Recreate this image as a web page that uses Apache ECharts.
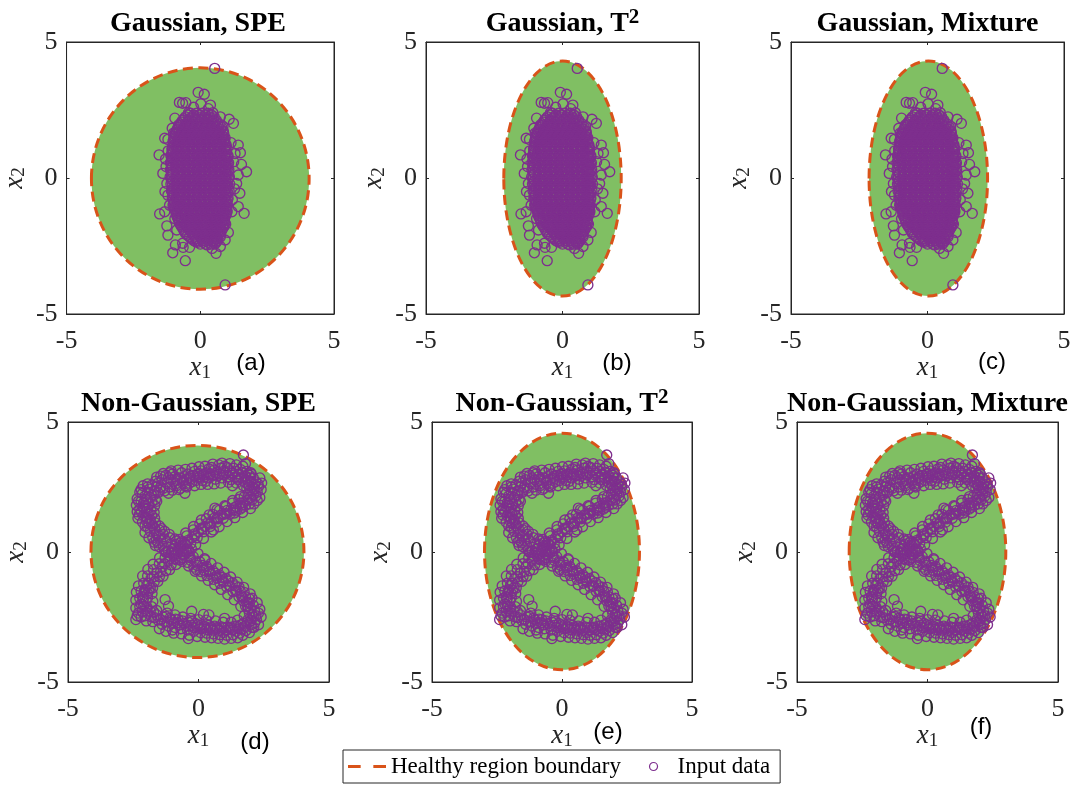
<!DOCTYPE html>
<html><head><meta charset="utf-8">
<script src="https://cdn.jsdelivr.net/npm/echarts@6/dist/echarts.min.js"></script>
<style>html,body{margin:0;padding:0;background:#fff}#c{width:1078px;height:785px}</style>
</head><body><div id="c"></div>
<script>
// ---------------- data ----------------
const AXIS_MIN = -5, AXIS_MAX = 5, TICK_STEP = 5;
const PANEL_TITLES = ['Gaussian, SPE', 'Gaussian, T', 'Gaussian, Mixture', 'Non-Gaussian, SPE', 'Non-Gaussian, T', 'Non-Gaussian, Mixture'];
const TITLE_SUPERSCRIPTS = ['', '2', '', '', '2', ''];
const PANEL_TAGS = ['(a)', '(b)', '(c)', '(d)', '(e)', '(f)'];
const PANEL_DATASET = ['gauss', 'gauss', 'gauss', 'eight', 'eight', 'eight'];
// healthy region boundary: centre and semi-axes (data units)
const BOUNDARY_CX = [0.0, 0.0, 0.03, -0.04, 0.0, 0.0];
const BOUNDARY_CY = [-0.02, -0.02, -0.02, 0.02, 0.02, 0.02];
const BOUNDARY_RX = [4.07, 2.15, 2.17, 4.08, 2.98, 3.0];
const BOUNDARY_RY = [4.07, 4.32, 4.32, 4.08, 4.55, 4.55];
const LEGEND_NAMES = ['Healthy region boundary', 'Input data'];

// Gaussian data, dense core read row by row: [y, [x values]]
const GAUSS_CORE = [
 [2.38, [-0.37,-0.14,0.08,0.29]],
 [2.315, [-0.46,-0.24,-0.02,0.2,0.42]],
 [2.25, [-0.55,-0.31,-0.09,0.14,0.35,0.52]],
 [2.185, [-0.6,-0.38,-0.16,0.06,0.27,0.48]],
 [2.12, [-0.66,-0.43,-0.21,0.01,0.23,0.44,0.6]],
 [2.055, [-0.7,-0.48,-0.26,-0.05,0.17,0.38,0.58]],
 [1.99, [-0.74,-0.52,-0.31,-0.1,0.12,0.31,0.53,0.71]],
 [1.925, [-0.79,-0.57,-0.36,-0.15,0.06,0.26,0.47,0.66]],
 [1.86, [-0.83,-0.62,-0.41,-0.2,0.01,0.21,0.42,0.61,0.8]],
 [1.795, [-0.86,-0.66,-0.45,-0.25,-0.04,0.17,0.37,0.56,0.76]],
 [1.73, [-0.9,-0.69,-0.5,-0.29,-0.09,0.12,0.31,0.51,0.7,0.86]],
 [1.665, [-0.93,-0.72,-0.52,-0.31,-0.1,0.1,0.3,0.5,0.7,0.87]],
 [1.6, [-0.94,-0.74,-0.53,-0.32,-0.11,0.09,0.28,0.49,0.69,0.88]],
 [1.535, [-0.97,-0.77,-0.57,-0.36,-0.15,0.05,0.25,0.45,0.65,0.85]],
 [1.47, [-0.98,-0.8,-0.61,-0.41,-0.2,0.01,0.2,0.41,0.6,0.8,0.93]],
 [1.405, [-1.0,-0.83,-0.65,-0.45,-0.25,-0.05,0.15,0.35,0.55,0.75,0.91]],
 [1.34, [-1.02,-0.86,-0.69,-0.49,-0.3,-0.1,0.11,0.3,0.51,0.7,0.89]],
 [1.275, [-1.01,-0.82,-0.64,-0.44,-0.25,-0.05,0.15,0.35,0.56,0.75,0.93]],
 [1.21, [-1.0,-0.79,-0.6,-0.39,-0.2,0.01,0.2,0.4,0.61,0.8,0.97]],
 [1.145, [-1.03,-0.84,-0.65,-0.45,-0.25,-0.05,0.15,0.35,0.55,0.75,0.95]],
 [1.08, [-1.06,-0.88,-0.7,-0.5,-0.29,-0.1,0.1,0.31,0.5,0.71,0.9,1.0]],
 [1.015, [-1.05,-0.85,-0.65,-0.45,-0.25,-0.05,0.15,0.35,0.55,0.75,0.95]],
 [0.95, [-1.03,-0.81,-0.6,-0.4,-0.19,0.0,0.21,0.4,0.6,0.81,0.99]],
 [0.885, [-1.07,-0.86,-0.65,-0.45,-0.25,-0.05,0.15,0.35,0.55,0.75,0.95]],
 [0.82, [-1.1,-0.91,-0.7,-0.5,-0.3,-0.09,0.1,0.3,0.51,0.7,0.9,1.04]],
 [0.755, [-1.07,-0.86,-0.65,-0.45,-0.25,-0.05,0.15,0.35,0.55,0.75,0.95,1.03]],
 [0.69, [-1.03,-0.8,-0.61,-0.4,-0.2,0.01,0.2,0.39,0.6,0.8,1.0]],
 [0.625, [-1.08,-0.85,-0.65,-0.45,-0.25,-0.05,0.15,0.35,0.55,0.75,0.95]],
 [0.56, [-1.12,-0.9,-0.7,-0.51,-0.3,-0.1,0.1,0.31,0.5,0.7,0.9,1.06]],
 [0.495, [-1.08,-0.85,-0.65,-0.45,-0.25,-0.05,0.15,0.35,0.55,0.75,0.95,1.04]],
 [0.43, [-1.04,-0.81,-0.6,-0.4,-0.19,0.0,0.2,0.4,0.61,0.8,1.01]],
 [0.365, [-1.08,-0.85,-0.65,-0.45,-0.25,-0.05,0.15,0.35,0.55,0.75,0.95]],
 [0.3, [-1.12,-0.9,-0.71,-0.5,-0.3,-0.1,0.11,0.3,0.5,0.7,0.9,1.07]],
 [0.235, [-1.07,-0.85,-0.65,-0.45,-0.25,-0.05,0.15,0.35,0.55,0.75,0.95,1.04]],
 [0.17, [-1.02,-0.8,-0.6,-0.4,-0.2,0.0,0.2,0.41,0.6,0.8,1.0]],
 [0.105, [-1.08,-0.85,-0.65,-0.45,-0.25,-0.05,0.15,0.35,0.55,0.75,0.95]],
 [0.04, [-1.13,-0.91,-0.7,-0.5,-0.29,-0.1,0.1,0.3,0.5,0.7,0.9,1.09]],
 [-0.025, [-1.07,-0.85,-0.65,-0.45,-0.25,-0.05,0.15,0.35,0.55,0.75,0.95,1.05]],
 [-0.09, [-1.02,-0.8,-0.6,-0.4,-0.2,0.0,0.2,0.4,0.6,0.8,1.01]],
 [-0.155, [-1.06,-0.85,-0.65,-0.45,-0.25,-0.05,0.15,0.35,0.55,0.75,0.95]],
 [-0.22, [-1.1,-0.9,-0.7,-0.5,-0.3,-0.1,0.1,0.3,0.5,0.7,0.9,1.1]],
 [-0.285, [-1.05,-0.85,-0.65,-0.45,-0.25,-0.05,0.15,0.35,0.55,0.75,0.95,1.04]],
 [-0.35, [-1.0,-0.8,-0.61,-0.4,-0.2,0.01,0.2,0.4,0.6,0.81,1.0]],
 [-0.415, [-1.04,-0.85,-0.65,-0.45,-0.25,-0.05,0.15,0.35,0.55,0.75,0.95]],
 [-0.48, [-1.08,-0.9,-0.7,-0.5,-0.3,-0.1,0.1,0.3,0.5,0.7,0.9,1.08]],
 [-0.545, [-1.04,-0.85,-0.65,-0.45,-0.25,-0.05,0.15,0.35,0.55,0.75,0.95,1.03]],
 [-0.61, [-1.0,-0.8,-0.6,-0.41,-0.2,0.0,0.2,0.4,0.6,0.8,1.0]],
 [-0.675, [-1.03,-0.85,-0.65,-0.45,-0.25,-0.05,0.15,0.35,0.55,0.75,0.95]],
 [-0.74, [-1.05,-0.9,-0.7,-0.5,-0.3,-0.1,0.1,0.3,0.5,0.7,0.9,1.04]],
 [-0.805, [-1.01,-0.85,-0.65,-0.45,-0.25,-0.05,0.15,0.35,0.55,0.75,0.95,1.02]],
 [-0.87, [-0.98,-0.8,-0.6,-0.4,-0.2,0.0,0.21,0.4,0.6,0.8,0.99]],
 [-0.935, [-1.0,-0.85,-0.65,-0.45,-0.25,-0.05,0.15,0.35,0.55,0.75,0.95]],
 [-1.0, [-1.02,-0.88,-0.7,-0.5,-0.3,-0.1,0.1,0.3,0.5,0.7,0.9,1.02]],
 [-1.065, [-0.98,-0.8,-0.6,-0.4,-0.2,0.0,0.2,0.4,0.6,0.8,0.99]],
 [-1.13, [-0.95,-0.8,-0.6,-0.4,-0.2,0.0,0.2,0.4,0.6,0.8,0.98]],
 [-1.195, [-0.93,-0.75,-0.55,-0.35,-0.15,0.05,0.25,0.45,0.65,0.85,1.0]],
 [-1.26, [-0.9,-0.7,-0.5,-0.3,-0.1,0.1,0.3,0.5,0.7,0.9,1.0]],
 [-1.325, [-0.9,-0.75,-0.55,-0.35,-0.15,0.05,0.25,0.45,0.65,0.85,0.97]],
 [-1.39, [-0.88,-0.6,-0.4,-0.2,0.0,0.2,0.4,0.6,0.8,0.95]],
 [-1.455, [-0.85,-0.7,-0.5,-0.3,-0.1,0.1,0.3,0.5,0.7,0.88]],
 [-1.52, [-0.82,-0.7,-0.5,-0.3,-0.1,0.1,0.3,0.5,0.7,0.9]],
 [-1.585, [-0.8,-0.6,-0.4,-0.2,0.0,0.2,0.4,0.6,0.8,0.9]],
 [-1.65, [-0.78,-0.6,-0.4,-0.2,0.0,0.2,0.4,0.6,0.8,0.92]],
 [-1.715, [-0.74,-0.55,-0.35,-0.15,0.05,0.25,0.45,0.65,0.85]],
 [-1.78, [-0.7,-0.5,-0.3,-0.1,0.1,0.3,0.5,0.7,0.88]],
 [-1.845, [-0.66,-0.45,-0.25,-0.05,0.15,0.35,0.55,0.75,0.85]],
 [-1.91, [-0.62,-0.4,-0.2,0.0,0.2,0.4,0.6,0.8]],
 [-1.975, [-0.58,-0.35,-0.15,0.05,0.25,0.45,0.65,0.78]],
 [-2.04, [-0.55,-0.3,-0.1,0.1,0.3,0.5,0.72]],
 [-2.105, [-0.48,-0.25,-0.05,0.15,0.35,0.55,0.74]],
 [-2.17, [-0.4,-0.2,0.0,0.2,0.4,0.6,0.75]],
 [-2.235, [-0.32,-0.15,0.05,0.25,0.45,0.62]],
 [-2.3, [-0.25,-0.1,0.1,0.3,0.5,0.65]],
 [-2.365, [-0.1,0.1,0.3,0.48,0.6]],
 [-2.43, [0.0,0.2,0.4,0.55]]
];
// Gaussian data, scattered points around the core: [x, y]
const GAUSS_OUTER = [
 [0.54,4.03],[0.93,-3.93],[-0.08,3.15],[0.15,3.08],[-0.78,2.78],[-0.66,2.75],[-0.54,2.77],[0.02,2.73],
 [0.38,2.68],[-0.44,2.4],[0.47,2.4],[0.75,2.25],[1.08,2.16],[1.24,2.01],[-1.05,1.83],[-0.81,1.95],
 [-1.33,1.46],[-1.21,1.42],[1.42,1.21],[1.5,0.93],[-1.54,0.85],[1.54,0.5],[1.73,0.23],[-1.4,0.17],
 [-1.28,0.42],[1.42,0.11],[1.36,-0.2],[1.48,-0.56],[-1.21,-0.63],[-1.52,-1.32],[-1.33,-1.24],[1.42,-1.05],
 [1.64,-1.3],[1.18,-1.24],[-1.25,-1.76],[-1.21,-2.1],[-0.88,-1.91],[0.93,-2.28],[-0.93,-2.46],[-0.66,-2.4],
 [-0.64,-2.55],[-1.03,-2.75],[-0.56,-3.04],[0.44,-2.59],[0.59,-2.77],[0.75,-2.52],[-0.17,-2.34],[0.26,-2.46],
 [-1.2,1.0],[1.15,1.3],[-1.25,-0.2],[1.25,0.6],[1.2,-0.8],[-1.15,-1.0],[0.95,-1.7],[-0.95,-1.5],
 [0.85,1.9],[-0.95,2.2],[0.3,2.55],[-0.25,2.6],[0.55,-2.35],[-0.4,-2.55],[1.3,0.9],[-1.3,0.7],
 [1.28,-0.4],[-1.32,-0.5],[1.05,-2.0],[-1.0,1.65]
];
// Non-Gaussian ("8"-shaped) data: [x, y]
const EIGHT_DATA = [
 [-0.78,0.05],[-0.62,-0.1],[-0.95,0.12],[-0.7,0.22],[-1.02,0.1],[-0.88,0.3],[-1.15,0.02],[-1.05,0.32],
 [-1.22,0.4],[-1.1,0.55],[-1.35,0.22],[-1.3,0.5],[-1.45,0.45],[-1.35,0.68],[-1.55,0.35],[-1.5,0.62],
 [-1.62,0.7],[-1.5,0.85],[-1.75,0.55],[-1.68,0.9],[-1.85,0.8],[-1.75,1.0],[-1.95,0.95],[-1.9,1.12],[-2.05,1.0],
 [-2.0,1.2],[-1.85,1.25],[-2.15,1.15],[-1.8,1.1],[-2.1,1.4],[-1.92,1.45],[-2.2,1.55],[-1.8,1.4],[-2.0,1.55],
 [-2.12,1.7],[-1.95,1.68],[-2.25,1.65],[-1.82,1.6],[-2.05,1.8],[-2.1,1.9],[-1.9,1.85],[-2.2,1.95],[-1.78,1.92],[-2.02,2.02],
 [-2.05,2.15],[-1.85,2.1],[-2.15,2.25],[-1.7,2.2],[-1.95,2.3],[-1.88,2.42],[-1.7,2.35],[-1.6,2.5],[-1.95,2.5],[-1.78,2.58],
 [-1.55,2.65],[-1.45,2.5],[-1.65,2.72],[-1.4,2.78],[-1.35,2.45],[-1.2,2.65],[-1.15,2.85],[-1.25,2.95],[-1.1,2.5],[-1.05,2.78],
 [-0.95,2.7],[-0.9,2.9],[-1.0,3.0],[-0.85,2.55],[-0.82,2.8],[-0.72,2.85],[-0.65,3.05],[-0.6,2.65],[-0.75,2.4],[-0.55,2.9],
 [-0.45,2.8],[-0.4,3.0],[-0.35,2.65],[-0.5,2.55],[-0.3,2.92],[-0.2,2.95],[-0.15,3.1],[-0.1,2.75],[-0.25,2.7],[-0.05,2.98],
 [0.05,2.9],[0.1,3.12],[0.15,2.75],[0.0,3.02],[0.2,2.98],[0.3,3.05],[0.35,2.85],[0.4,3.2],[0.28,2.72],[0.45,3.0],
 [0.55,2.95],[0.6,3.15],[0.65,2.8],[0.5,3.25],[0.7,3.05],[0.8,3.0],[0.85,3.22],[0.9,2.85],[0.78,3.35],[0.95,3.1],
 [1.05,3.05],[1.1,3.25],[1.15,2.9],[1.0,3.3],[1.2,3.12],[1.3,3.05],[1.35,3.22],[1.4,2.88],[1.28,2.95],[1.45,3.1],
 [1.55,3.0],[1.6,3.18],[1.65,2.85],[1.52,2.78],[1.7,3.05],[1.8,2.92],[1.85,3.1],[1.9,2.75],[1.78,2.68],[1.95,2.95],
 [2.0,2.72],[2.1,2.85],[2.15,2.6],[1.95,2.55],[2.2,2.7],[2.15,2.45],[2.3,2.52],[2.05,2.35],[2.25,2.3],[1.98,2.4],
 [1.72,3.73],[1.8,3.4],
 [2.1,2.2],[2.0,2.1],[2.2,2.15],[1.9,2.25],[2.05,2.0],[1.85,1.98],[1.75,2.12],[1.95,1.85],[1.7,1.9],[1.8,1.8],
 [1.6,1.88],[1.55,2.02],[1.68,1.72],[1.45,1.75],[1.6,1.65],[1.35,1.7],[1.3,1.88],[1.45,1.58],[1.22,1.6],[1.38,1.5],
 [1.1,1.6],[1.05,1.75],[1.2,1.45],[0.98,1.45],[0.85,1.42],[0.8,1.6],[0.95,1.3],[0.72,1.32],
 [0.6,1.3],[0.55,1.45],[0.7,1.15],[0.5,1.15],[0.35,1.12],[0.3,1.28],[0.45,0.98],[0.25,0.98],
 [0.1,0.92],[0.05,1.08],[0.2,0.78],[0.0,0.78],[-0.15,0.7],[-0.2,0.85],[-0.05,0.55],[-0.25,0.55],
 [-0.4,0.45],[-0.45,0.62],[-0.3,0.32],[-0.5,0.3],[-0.6,0.25],[-0.65,0.4],[-0.5,0.1],[-0.72,0.12],
 [-0.95,-0.15],[-0.85,-0.3],[-1.05,-0.05],[-1.1,-0.25],[-1.15,-0.35],[-1.05,-0.5],[-1.28,-0.22],[-1.3,-0.45],
 [-1.38,-0.58],[-1.25,-0.72],[-1.5,-0.45],[-1.45,-0.75],[-1.6,-0.8],[-1.5,-0.95],[-1.72,-0.68],[-1.7,-0.95],
 [-1.82,-1.02],[-1.7,-1.15],[-1.95,-0.92],[-1.9,-1.2],[-1.98,-1.28],[-1.85,-1.38],[-2.1,-1.2],[-2.05,-1.45],
 [-2.08,-1.55],[-1.95,-1.6],[-2.2,-1.5],[-2.15,-1.72],[-1.9,-1.48],[-2.12,-1.82],[-2.0,-1.88],[-2.25,-1.78],[-2.2,-2.0],[-1.95,-1.75],
 [-2.1,-2.08],[-1.98,-2.12],[-2.25,-2.1],[-2.15,-2.28],[-2.3,-2.35],[-1.95,-2.35],[-1.85,-2.28],[-2.05,-2.45],[-1.8,-2.5],[-2.2,-2.5],
 [-1.7,-2.52],[-1.6,-2.42],[-1.75,-2.68],[-1.55,-2.62],[-1.45,-2.6],[-1.35,-2.5],[-1.4,-2.78],[-1.3,-2.68],
 [-1.2,-2.68],[-1.1,-2.55],[-1.15,-2.85],[-1.25,-2.48],[-0.95,-2.72],[-0.88,-2.58],[-0.9,-2.9],[-1.0,-3.0],
 [-0.7,-2.8],[-0.62,-2.65],[-0.68,-2.95],[-0.78,-2.6],[-0.45,-2.85],[-0.38,-2.7],[-0.42,-3.0],[-0.39,-3.33],
 [-0.2,-2.9],[-0.12,-2.75],[-0.18,-3.05],[-0.25,-2.68],[0.05,-2.95],[0.12,-2.8],[0.08,-3.1],[-0.02,-2.8],
 [0.3,-2.98],[0.38,-2.82],[0.32,-3.12],[0.22,-2.85],[0.55,-3.0],[0.62,-2.85],[0.58,-3.15],[0.48,-2.88],[0.4,-2.42],
 [0.8,-3.02],[0.88,-2.88],[0.82,-3.18],[0.72,-2.9],[1.05,-3.02],[1.12,-2.88],[1.08,-3.2],[0.98,-2.92],[1.0,-2.55],
 [1.3,-3.0],[1.38,-2.85],[1.32,-3.18],[1.22,-2.9],[1.55,-2.95],[1.62,-2.8],[1.58,-3.12],[1.48,-2.85],
 [1.8,-2.85],[1.88,-2.7],[1.82,-3.02],[1.72,-2.75],[2.05,-2.9],[2.0,-2.65],[2.1,-2.5],[2.02,-2.8],[1.9,-2.6],[2.22,-2.6],
 [2.05,-2.4],[2.15,-2.28],[1.95,-2.35],[2.2,-2.45],[1.9,-2.2],[2.0,-2.15],[2.1,-2.05],[1.88,-2.1],[1.95,-1.95],
 [1.85,-1.92],[1.95,-1.8],[1.72,-1.88],[1.8,-1.72],[1.65,-1.68],[1.75,-1.55],[1.55,-1.72],[1.6,-1.5],
 [1.45,-1.48],[1.55,-1.35],[1.32,-1.52],[1.4,-1.3],[1.2,-1.3],[1.3,-1.18],[1.08,-1.35],[1.15,-1.12],
 [0.95,-1.15],[1.05,-1.02],[0.82,-1.2],[0.9,-0.98],[0.7,-1.0],[0.8,-0.88],[0.58,-1.05],[0.65,-0.82],
 [0.45,-0.85],[0.55,-0.72],[0.32,-0.9],[0.4,-0.68],[0.2,-0.7],[0.3,-0.55],[0.08,-0.75],[0.15,-0.52],
 [-0.05,-0.52],[0.05,-0.38],[-0.18,-0.58],[-0.1,-0.35],[-0.3,-0.32],[-0.2,-0.18],[-0.42,-0.4],[-0.35,-0.15],
 [-0.55,-0.12],[-0.45,0.0],[-0.65,-0.22],[-0.58,0.05],
 [-0.52,2.26],[-1.15,2.26],[0.63,1.69],[0.57,0.85],[0.25,-0.3],[-0.07,-0.68],
 [-0.26,-2.28],[0.19,-2.4],[-1.28,-1.83],[-1.15,-2.08],[1.3,2.55],[-1.65,0.25],
 [-0.7,0.35],[-1.1,-0.15],[-0.9,0.5],[-1.3,0.05],[-1.12,0.68],[-1.5,0.2],[-1.3,0.8],[-1.7,0.38],[-1.5,1.0],[-1.9,0.55],
 [-1.65,1.12],[-2.05,0.75],[-0.85,0.42],[-1.25,0.0],[-1.42,0.9],[-1.62,0.45],
 [-2.32,1.3],[-1.68,1.3],[-2.35,1.55],[-1.7,1.52],[-2.38,1.8],[-1.68,1.78],[-2.35,2.05],[-1.65,2.02],[-2.25,2.3],[-1.55,2.28],
 [-2.12,2.55],[-1.48,2.38],[-2.28,1.42],[-2.3,1.95],[-2.2,2.4],[-1.6,1.95],[-2.0,1.3],[-1.95,2.62],
 [-1.6,2.88],[-1.3,2.35],[-1.35,3.02],[-1.0,2.38],[-1.05,3.12],[-0.7,2.45],[-0.78,3.15],[-0.45,2.5],[-0.5,3.18],[-0.15,2.55],
 [-0.25,3.22],[0.1,2.6],[0.02,3.28],[0.35,2.6],[0.25,3.3],[0.6,2.62],[0.55,3.38],[0.85,2.65],[0.9,3.42],[1.15,2.68],
 [1.2,3.4],[1.45,2.65],[1.45,3.35],[1.72,2.55],[1.7,3.3],[2.0,3.05],[-0.88,2.62],[-0.58,2.75],[-0.3,2.82],[0.0,2.85],
 [0.22,2.88],[0.48,2.9],[0.72,2.92],[0.98,2.96],[1.25,2.78],[1.5,2.88],[-1.45,2.92],[-1.1,3.05],
 [2.35,2.85],[2.4,2.4],[2.35,2.1],[2.28,2.62],[1.85,2.45],[2.1,2.42],[1.98,2.85],[2.42,2.65],[2.12,1.85],[2.25,1.98],
 [1.9,2.58],[2.02,3.0],
 [1.99,1.67],[1.69,1.52],[1.39,1.32],[1.09,1.17],[0.79,0.97],[0.49,0.77],[0.19,0.52],[-0.11,0.27],[-0.36,0.02],
 [1.61,2.13],[1.31,1.98],[1.01,1.78],[0.71,1.63],[0.41,1.43],[0.11,1.23],[-0.19,0.98],[-0.49,0.73],[-0.74,0.48],
 [1.65,1.8],[1.35,1.62],[1.05,1.48],[0.75,1.28],[0.45,1.08],[0.15,0.88],[-0.15,0.62],[-0.42,0.38],
 [-0.85,-0.05],[-0.75,0.15],[-0.6,-0.05],[-1.0,0.0],[-0.9,-0.25],[-0.55,0.35],[-0.7,-0.3],[-0.4,0.1],
 [-0.86,-0.48],[-1.11,-0.68],[-1.36,-0.93],[-1.56,-1.13],[-1.76,-1.38],
 [-1.24,-0.02],[-1.49,-0.22],[-1.74,-0.47],[-1.94,-0.67],[-2.14,-0.92],
 [-2.38,-1.55],[-1.78,-1.6],[-2.4,-1.85],[-1.75,-1.9],[-2.4,-2.15],[-1.8,-2.1],[-2.35,-2.45],[-2.3,-1.3],[-2.4,-2.6],[-2.0,-2.65],
 [-1.72,-2.3],
 [-1.5,-2.95],[-1.6,-2.25],[-1.25,-3.05],[-1.2,-2.35],[-0.95,-3.12],[-0.9,-2.42],[-0.65,-3.15],[-0.6,-2.5],[-0.35,-3.2],[-0.3,-2.55],
 [-0.05,-3.25],[0.0,-2.6],[0.25,-3.28],[0.3,-2.62],[0.5,-3.3],[0.65,-2.65],[0.75,-3.32],[0.95,-2.7],[1.0,-3.35],[1.25,-2.7],
 [1.25,-3.32],[1.5,-2.62],[1.5,-3.3],[1.7,-3.2],[1.95,-3.1],[-1.05,-2.6],[-0.8,-2.72],[-0.55,-2.75],[-0.3,-2.82],[-0.05,-2.88],
 [0.2,-2.92],[0.45,-2.95],[0.7,-2.95],[0.95,-3.1],[1.2,-2.95],[1.45,-3.05],[1.7,-2.95],
 [2.35,-2.2],[2.4,-2.5],[2.3,-2.8],[2.25,-1.95],[2.15,-2.72],[1.75,-2.45],[2.3,-2.35],[2.05,-1.78],[1.8,-2.08],[2.12,-2.9],
 [1.98,-1.61],[1.73,-1.36],[1.48,-1.16],[1.23,-0.96],[0.98,-0.78],[0.73,-0.61],[0.48,-0.44],[0.23,-0.26],[-0.02,-0.06],[-0.27,0.12],
 [1.62,-2.09],[1.37,-1.84],[1.12,-1.64],[0.87,-1.44],[0.62,-1.26],[0.37,-1.09],[0.12,-0.92],[-0.13,-0.74],[-0.38,-0.54],[-0.63,-0.36],
 [1.68,-1.75],[1.42,-1.5],[1.18,-1.3],[0.92,-1.1],[0.68,-0.92],[0.42,-0.76],[0.18,-0.6],[-0.08,-0.42],[-0.32,-0.22]
];

// ---------------- build ----------------
const GREEN = '#80BF63', ORANGE = '#D95319', PURPLE = '#7E2F8E', AXIS_COLOR = '#262626';
const SERIF = '"Liberation Serif","Times New Roman",Times,serif';
const SANS = '"Liberation Sans",Arial,Helvetica,sans-serif';

const gaussPoints = [];
GAUSS_CORE.forEach(function (row) { row[1].forEach(function (x) { gaussPoints.push([x, row[0]]); }); });
GAUSS_OUTER.forEach(function (p) { gaussPoints.push(p); });
const DATASETS = { gauss: gaussPoints, eight: EIGHT_DATA };

const GRIDS = [
  { left: 62, top: 42, width: 272, height: 272 },
  { left: 426, top: 42, width: 273, height: 272 },
  { left: 791, top: 42, width: 273, height: 272 },
  { left: 68, top: 422, width: 261, height: 260 },
  { left: 432, top: 422, width: 260, height: 260 },
  { left: 797, top: 422, width: 261, height: 260 }
];
const X_NAME_GAP = [30, 30, 30, 39, 29, 26];
const Y_NAME_GAP = [31, 31, 31, 37, 31, 30];
const TAG_POS = [[251, 363], [617, 363], [992, 362], [255, 742], [608, 732], [981, 727]];

const mathRich = {
  i: { fontFamily: SERIF, fontStyle: 'italic', fontSize: 27, lineHeight: 28, padding: [0, 0, 4, 0], verticalAlign: 'top', color: AXIS_COLOR },
  s: { fontFamily: SERIF, fontSize: 19, lineHeight: 19, verticalAlign: 'bottom', color: AXIS_COLOR }
};

const grid = [], xAxis = [], yAxis = [], series = [], title = [], graphic = [];
GRIDS.forEach(function (g, i) {
  grid.push(Object.assign({ show: true, borderColor: AXIS_COLOR, borderWidth: 1, backgroundColor: '#fff', containLabel: false }, g));
  const common = {
    gridIndex: i, type: 'value', min: AXIS_MIN, max: AXIS_MAX, interval: TICK_STEP,
    splitLine: { show: false },
    axisLine: { show: true, onZero: false, lineStyle: { color: AXIS_COLOR, width: 1 } },
    axisTick: { show: true, inside: true, length: 3, lineStyle: { color: AXIS_COLOR } }
  };
  xAxis.push(Object.assign({}, common, {
    position: 'bottom',
    axisLabel: { fontFamily: SERIF, fontSize: 26, color: AXIS_COLOR, margin: 14 },
    name: '{i|x}{s|1}', nameLocation: 'middle', nameGap: X_NAME_GAP[i],
    nameTextStyle: { rich: mathRich }
  }));
  xAxis.push(Object.assign({}, common, { position: 'top', axisLabel: { show: false } }));
  yAxis.push(Object.assign({}, common, {
    position: 'left',
    axisLabel: { fontFamily: SERIF, fontSize: 26, color: AXIS_COLOR, margin: 9 },
    name: '{i|x}{s|2}', nameLocation: 'middle', nameGap: Y_NAME_GAP[i],
    nameTextStyle: { rich: mathRich }
  }));
  yAxis.push(Object.assign({}, common, { position: 'right', axisLabel: { show: false } }));

  series.push({
    type: 'custom', name: LEGEND_NAMES[0], xAxisIndex: 2 * i, yAxisIndex: 2 * i, z: 2,
    silent: true, animation: false,
    data: [[BOUNDARY_CX[i], BOUNDARY_CY[i], BOUNDARY_RX[i], BOUNDARY_RY[i]]],
    encode: { x: 0, y: 1 },
    renderItem: function (params, api) {
      const c = api.coord([api.value(0), api.value(1)]);
      const s = api.size([api.value(2), api.value(3)]);
      return {
        type: 'ellipse',
        shape: { cx: c[0], cy: c[1], rx: s[0], ry: s[1] },
        style: { fill: GREEN, stroke: ORANGE, lineWidth: 3, lineDash: [10, 5.5] }
      };
    }
  });
  series.push({
    type: 'scatter', name: LEGEND_NAMES[1], xAxisIndex: 2 * i, yAxisIndex: 2 * i, z: 3,
    silent: true, animation: false, progressive: 0,
    symbol: 'circle', symbolSize: 10,
    itemStyle: { color: 'rgba(0,0,0,0)', borderColor: PURPLE, borderWidth: 1.35, opacity: 1 },
    data: DATASETS[PANEL_DATASET[i]]
  });

  const sup = TITLE_SUPERSCRIPTS[i];
  title.push({
    text: '{t|' + PANEL_TITLES[i] + '}' + (sup ? '{s|' + sup + '}' : ''),
    left: g.left + g.width / 2, textAlign: 'center', top: g.top - 35, padding: 0,
    textStyle: {
      rich: {
        t: { fontFamily: SERIF, fontWeight: 'bold', fontSize: 28, lineHeight: 34, color: '#000' },
        s: { fontFamily: SERIF, fontWeight: 'bold', fontSize: 21, lineHeight: 21, verticalAlign: 'top', color: '#000' }
      }
    }
  });
  graphic.push({
    type: 'text', x: TAG_POS[i][0], y: TAG_POS[i][1],
    style: { text: PANEL_TAGS[i], fontFamily: SANS, fontSize: 24, fill: '#000', align: 'center', verticalAlign: 'middle' }
  });
});

const chart = echarts.init(document.getElementById('c'), null, { renderer: 'canvas' });
chart.setOption({
  animation: false,
  backgroundColor: '#fff',
  title: title,
  grid: grid,
  xAxis: xAxis,
  yAxis: yAxis,
  series: series,
  graphic: graphic,
  legend: {
    left: 343, top: 750, orient: 'horizontal', selectedMode: false,
    backgroundColor: '#fff', borderColor: AXIS_COLOR, borderWidth: 1, borderRadius: 0,
    padding: [5, 10, 5, 5], itemGap: 28, itemWidth: 38, itemHeight: 8,
    textStyle: { fontFamily: SERIF, fontSize: 23, color: '#000' },
    data: [
      { name: LEGEND_NAMES[0], icon: 'path://M0,0h10v2.5h-10zM20,0h10v2.5h-10z', itemStyle: { color: ORANGE, borderWidth: 0 } },
      { name: LEGEND_NAMES[1], icon: 'circle', itemStyle: { color: 'rgba(0,0,0,0)', borderColor: PURPLE, borderWidth: 1.2 } }
    ]
  }
});
</script></body></html>
